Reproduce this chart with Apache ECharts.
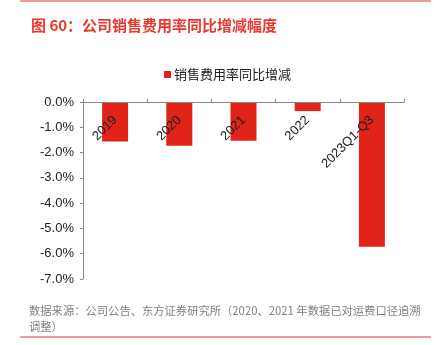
<!DOCTYPE html>
<html>
<head>
<meta charset="utf-8">
<script src="https://cdn.jsdelivr.net/npm/echarts@6/dist/echarts.min.js"></script>
<style>
html,body{margin:0;padding:0;background:#fff;}
#chart{width:442px;height:345px;}
</style>
</head>
<body>
<div id="chart"></div>
<script>
const categories = ['2019', '2020', '2021', '2022', '2023Q1-Q3'];
const seriesName = '销售费用率同比增减';
const values = [-1.56, -1.73, -1.53, -0.36, -5.72];
const titleText = '图 60：公司销售费用率同比增减幅度';
const sourceLine1 = '数据来源：公司公告、东方证券研究所（2020、2021 年数据已对运费口径追溯';
const sourceLine2 = '调整）';

const chart = echarts.init(document.getElementById('chart'), null, {renderer: 'canvas'});
const red = '#e2231a';
const font = '"Liberation Sans", Arial, "Noto Sans CJK SC", sans-serif';
const cjk = '"Noto Sans CJK SC", sans-serif';
chart.setOption({
  animation: false,
  backgroundColor: '#fff',
  title: {
    text: titleText,
    left: 26, top: 13,
    textStyle: {color: '#e8392f', fontSize: 15, fontWeight: 'bold', fontFamily: cjk}
  },
  legend: {
    data: [seriesName],
    top: 63, left: 159,
    itemWidth: 7, itemHeight: 7, itemGap: 4,
    icon: 'rect',
    textStyle: {fontSize: 13, color: '#222', fontFamily: cjk, padding: [0,0,0,-2]}
  },
  grid: {left: 83, right: 38, top: 102, bottom: 66, containLabel: false},
  xAxis: {
    type: 'category',
    data: categories,
    position: 'top',
    z: 5,
    axisLine: {onZero: false, lineStyle: {color: '#888', width: 1}},
    axisTick: {show: true, inside: false, length: 3, lineStyle: {color: '#888'}},
    axisLabel: {inside: true, rotate: -45, margin: 16, fontSize: 13, color: '#222', fontFamily: font}
  },
  yAxis: {
    type: 'value',
    min: -7, max: 0, interval: 1,
    splitLine: {show: false},
    axisLine: {show: true, lineStyle: {color: '#888'}},
    axisTick: {show: true, length: 3, lineStyle: {color: '#888'}},
    axisLabel: {fontSize: 13, color: '#222', margin: 9, fontFamily: font,
      formatter: v => v.toFixed(1) + '%'}
  },
  series: [{
    name: seriesName,
    type: 'bar',
    data: values,
    barWidth: 26,
    itemStyle: {color: red}
  }],
  graphic: [
    {type: 'line', shape: {x1: 20, y1: 1, x2: 431, y2: 1}, style: {stroke: '#e8392f', lineWidth: 1}},
    {type: 'line', shape: {x1: 20, y1: 337, x2: 431, y2: 337}, style: {stroke: '#e8392f', lineWidth: 1}},
    {type: 'text', left: 29, top: 305, style: {text: sourceLine1, fill: '#808080', font: '11.3px ' + cjk}},
    {type: 'text', left: 29, top: 321, style: {text: sourceLine2, fill: '#808080', font: '11.3px ' + cjk}}
  ]
});
</script>
</body>
</html>
